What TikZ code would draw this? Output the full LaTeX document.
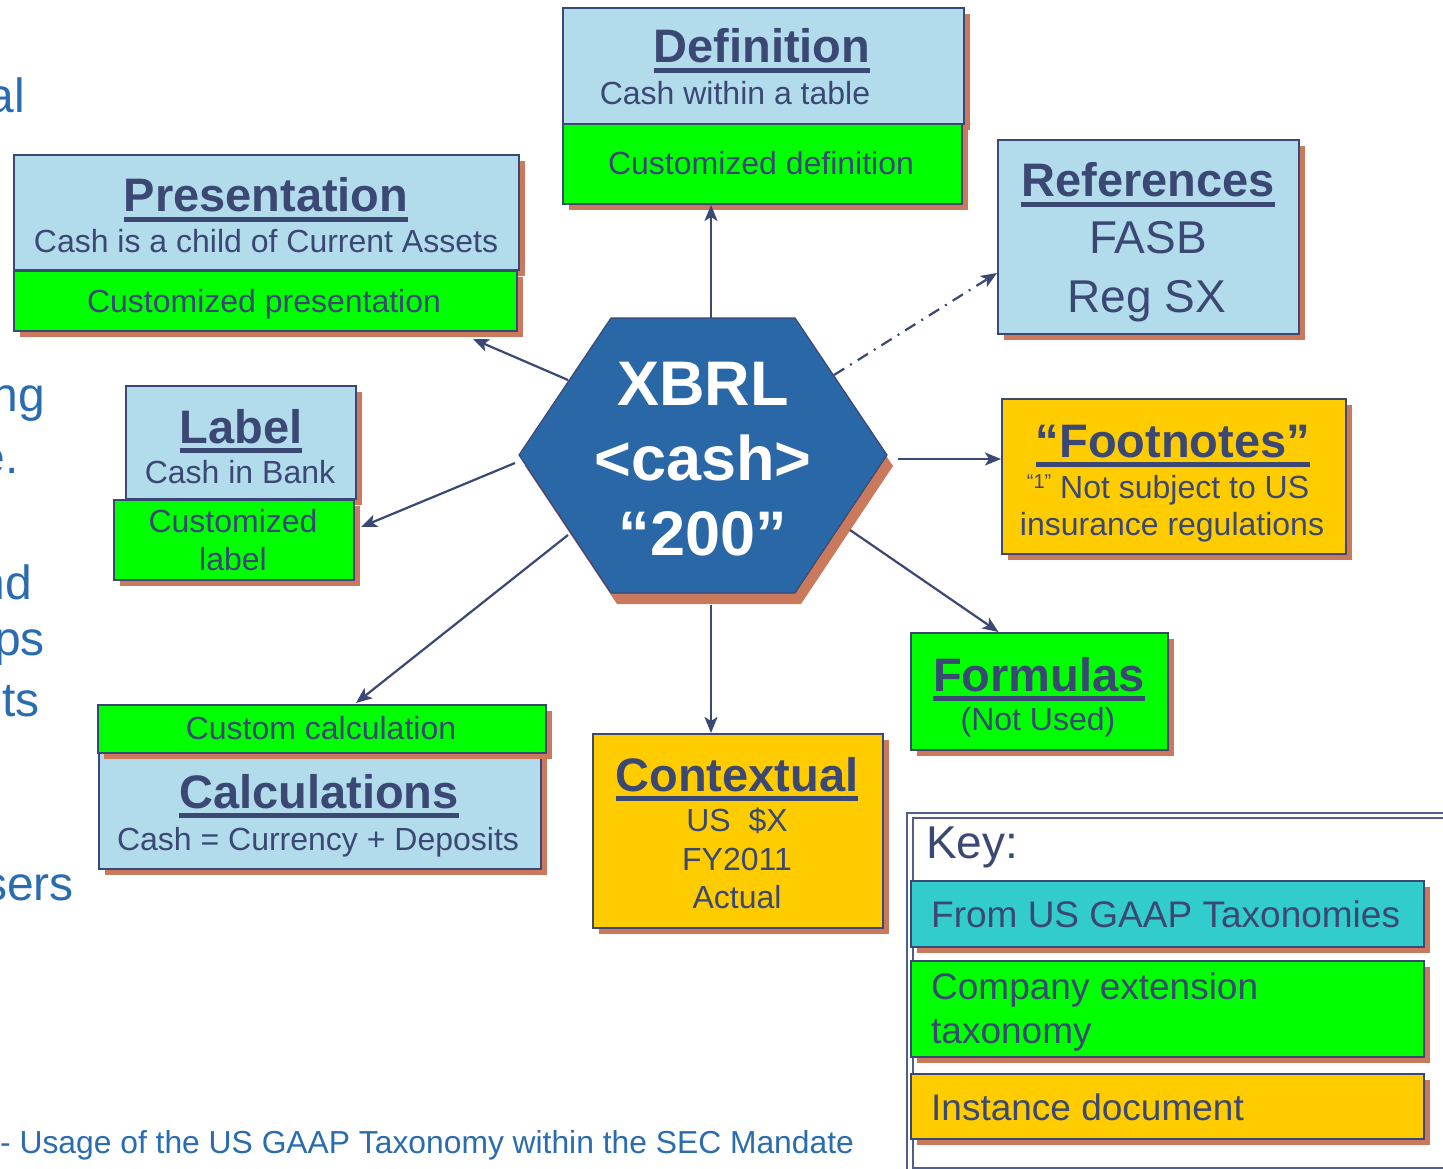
\documentclass[tikz,border=0pt]{standalone}
\usepackage{fontspec}
\setmainfont{Liberation Sans}
\usetikzlibrary{arrows.meta,shadows}
\definecolor{InkNavy}{RGB}{59,72,115}
\definecolor{GaapBlue}{RGB}{178,220,236}
\definecolor{ExtGreen}{RGB}{0,255,0}
\definecolor{InstYellow}{RGB}{255,204,0}
\definecolor{KeyTeal}{RGB}{51,204,204}
\definecolor{ShadowBrown}{RGB}{203,121,93}
\definecolor{HexBlue}{RGB}{41,103,166}
\definecolor{SlideBlue}{RGB}{42,108,176}
\definecolor{FrameNavy}{RGB}{80,94,138}
\newcommand{\ulword}[1]{\setbox0=\hbox{#1}\rlap{\rule[-0.21em]{\wd0}{0.1em}}\box0}
\tikzset{
  cardbox/.style={draw=InkNavy, line width=2pt, inner sep=0pt, anchor=north west,
    drop shadow={shadow xshift=6pt, shadow yshift=-6pt, fill=ShadowBrown, opacity=1}},
  gaapcard/.style={cardbox, fill=GaapBlue},
  extcard/.style={cardbox, fill=ExtGreen},
  instcard/.style={cardbox, fill=InstYellow},
  taxcard/.style={cardbox, fill=KeyTeal},
  cardtitle/.style={font=\fontsize{47}{56}\selectfont\bfseries, text=InkNavy, inner sep=0pt, anchor=base},
  cardtext/.style={font=\fontsize{32}{38}\selectfont, text=InkNavy, inner sep=0pt, anchor=base},
  cardbig/.style={font=\fontsize{46}{55}\selectfont, text=InkNavy, inner sep=0pt, anchor=base},
  keytext/.style={font=\fontsize{37}{44}\selectfont, text=InkNavy, inner sep=0pt, anchor=base west},
  slidetext/.style={font=\fontsize{48}{58}\selectfont, text=SlideBlue, inner sep=0pt, anchor=base east},
  hexcell/.style={fill=HexBlue, draw=InkNavy, line width=1.2pt,
    drop shadow={shadow xshift=6pt, shadow yshift=-11pt, fill=ShadowBrown, opacity=1}},
  keyframe/.style={draw=FrameNavy, line width=2pt},
  link/.style={draw=InkNavy, line width=2.2pt, -{Stealth[length=16pt,width=13pt,inset=4pt]}},
}
\begin{document}
\begin{tikzpicture}[x=1pt, y=-1pt]
  \useasboundingbox[fill=white] (0,0) rectangle (1443,1169);

  % slide text behind the diagram
  \node[slidetext] (slide-1) at (25,113) {al};
  \node[slidetext] (slide-2) at (45,411) {ng};
  \node[slidetext] (slide-3) at (19,473) {e.};
  \node[slidetext] (slide-4) at (32,599) {nd};
  \node[slidetext] (slide-5) at (45,655) {ps};
  \node[slidetext] (slide-6) at (40,716) {pts};
  \node[slidetext] (slide-7) at (74,900) {sers};
  \node[font=\fontsize{31.8}{38}\selectfont, text=SlideBlue, inner sep=0pt, anchor=base west] (caption) at (0,1153) {- Usage of the US GAAP Taxonomy within the SEC Mandate};

  % definition
  \node[gaapcard, minimum width=401pt, minimum height=116pt] (defn) at (562,7) {};
  \node[extcard, minimum width=399pt, minimum height=80pt] (defn-ext) at (562,123) {};
  \node[cardtitle] (defn-title) at (762,63) {\ulword{Definition}};
  \node[cardtext] (defn-sub) at (735,105) {Cash within a table};
  \node[cardtext] (defn-cust) at (761,175) {Customized definition};

  % presentation
  \node[gaapcard, minimum width=505pt, minimum height=115pt] (pres) at (13,154) {};
  \node[extcard, minimum width=503pt, minimum height=60pt] (pres-ext) at (13,270) {};
  \node[cardtitle] (pres-title) at (266,212) {\ulword{Presentation}};
  \node[cardtext] (pres-sub) at (266,252) {Cash is a child of Current Assets};
  \node[cardtext] (pres-cust) at (264,312) {Customized presentation};

  % label
  \node[gaapcard, minimum width=230pt, minimum height=113pt] (lbl) at (125,385) {};
  \node[extcard, minimum width=240pt, minimum height=80pt] (lbl-ext) at (113,499) {};
  \node[cardtitle] (lbl-title) at (241,443) {\ulword{Label}};
  \node[cardtext] (lbl-sub) at (240,483) {Cash in Bank};
  \node[cardtext] (lbl-cust1) at (233,532) {Customized};
  \node[cardtext] (lbl-cust2) at (233,570) {label};

  % calculations
  \node[gaapcard, minimum width=442pt, minimum height=116pt] (calc) at (98,752) {};
  \node[extcard, minimum width=448pt, minimum height=48pt] (calc-ext) at (97,704) {};
  \node[cardtext] (calc-cust) at (321,739) {Custom calculation};
  \node[cardtitle] (calc-title) at (319,808) {\ulword{Calculations}};
  \node[cardtext] (calc-sub) at (318,850) {Cash = Currency + Deposits};

  % contextual
  \node[instcard, minimum width=290pt, minimum height=194pt] (ctx) at (592,733) {};
  \node[cardtitle] (ctx-title) at (737,791) {\ulword{Contextual}};
  \node[cardtext] (ctx-unit) at (737,831) {US~~\$X};
  \node[cardtext] (ctx-year) at (737,870) {FY2011};
  \node[cardtext] (ctx-scen) at (737,908) {Actual};

  % formulas
  \node[extcard, minimum width=257pt, minimum height=117pt] (form) at (910,632) {};
  \node[cardtitle] (form-title) at (1039,691) {\ulword{Formulas}};
  \node[cardtext] (form-sub) at (1038,730) {(Not Used)};

  % footnotes
  \node[instcard, minimum width=344pt, minimum height=155pt] (foot) at (1001,398) {};
  \node[cardtitle] (foot-title) at (1173,457) {\ulword{“Footnotes”}};
  \node[cardtext] (foot-sub1) at (1168,498) {\raisebox{10pt}{\fontsize{20}{20}\selectfont “1”} Not subject to US};
  \node[cardtext] (foot-sub2) at (1172,535) {insurance regulations};

  % references
  \node[gaapcard, minimum width=301pt, minimum height=194pt] (refs) at (997,139) {};
  \node[cardtitle] (refs-title) at (1148,197) {\ulword{References}};
  \node[cardbig] (refs-fasb) at (1148,253) {FASB};
  \node[cardbig] (refs-sec) at (1147,312) {Reg SX};

  % the XBRL fact
  \draw[hexcell] (611,318) -- (795,318) -- (887,455) -- (795,593) -- (611,593) -- (519,455) -- cycle;
  \node[font=\fontsize{63}{75}\selectfont\bfseries, text=white, align=center] (xbrl) at (703,459) {XBRL\\<cash>\\“200”};
  \coordinate (hx-n) at (711,318);
  \coordinate (hx-nw) at (568,380);
  \coordinate (hx-w) at (515,463);
  \coordinate (hx-sw) at (568,535);
  \coordinate (hx-s) at (711,605);
  \coordinate (hx-se) at (850,530);
  \coordinate (hx-e) at (898,459);
  \coordinate (hx-ne) at (834,375);

  \draw[link] (hx-n) -- (hx-n |- defn-ext.south);
  \draw[link] (hx-nw) -- ([shift={(-45pt,-7pt)}]pres-ext.south east);
  \draw[link] (hx-w) -- ([shift={(6pt,13pt)}]lbl-ext.east);
  \draw[link] (hx-sw) -- ([shift={(34pt,1pt)}]calc-ext.north);
  \draw[link] (hx-s) -- (hx-s |- ctx.north);
  \draw[link] (hx-se) -- ([xshift=-41pt]form.north);
  \draw[link] (hx-e) -- (hx-e -| foot.west);
  \draw[link, dash pattern=on 12pt off 7pt on 2pt off 7pt] (hx-ne) -- ([yshift=-36pt]refs.west);

  % key
  \draw[keyframe] (907,813) rectangle (1470,1180);
  \draw[keyframe] (913,818) rectangle (1465,1168);
  \node[keytext, font=\fontsize{46}{55}\selectfont] (key-head) at (926,858) {Key:};
  \node[taxcard, minimum width=513pt, minimum height=66pt] (key-gaap) at (910,880) {};
  \node[extcard, minimum width=513pt, minimum height=96pt] (key-ext) at (910,960) {};
  \node[instcard, minimum width=513pt, minimum height=65pt] (key-inst) at (910,1073) {};
  \node[keytext] (key-gaap-text) at (931,927) {From US GAAP Taxonomies};
  \node[keytext] (key-ext-text1) at (931,999) {Company extension};
  \node[keytext] (key-ext-text2) at (931,1043) {taxonomy};
  \node[keytext] (key-inst-text) at (931,1120) {Instance document};
\end{tikzpicture}
\end{document}
